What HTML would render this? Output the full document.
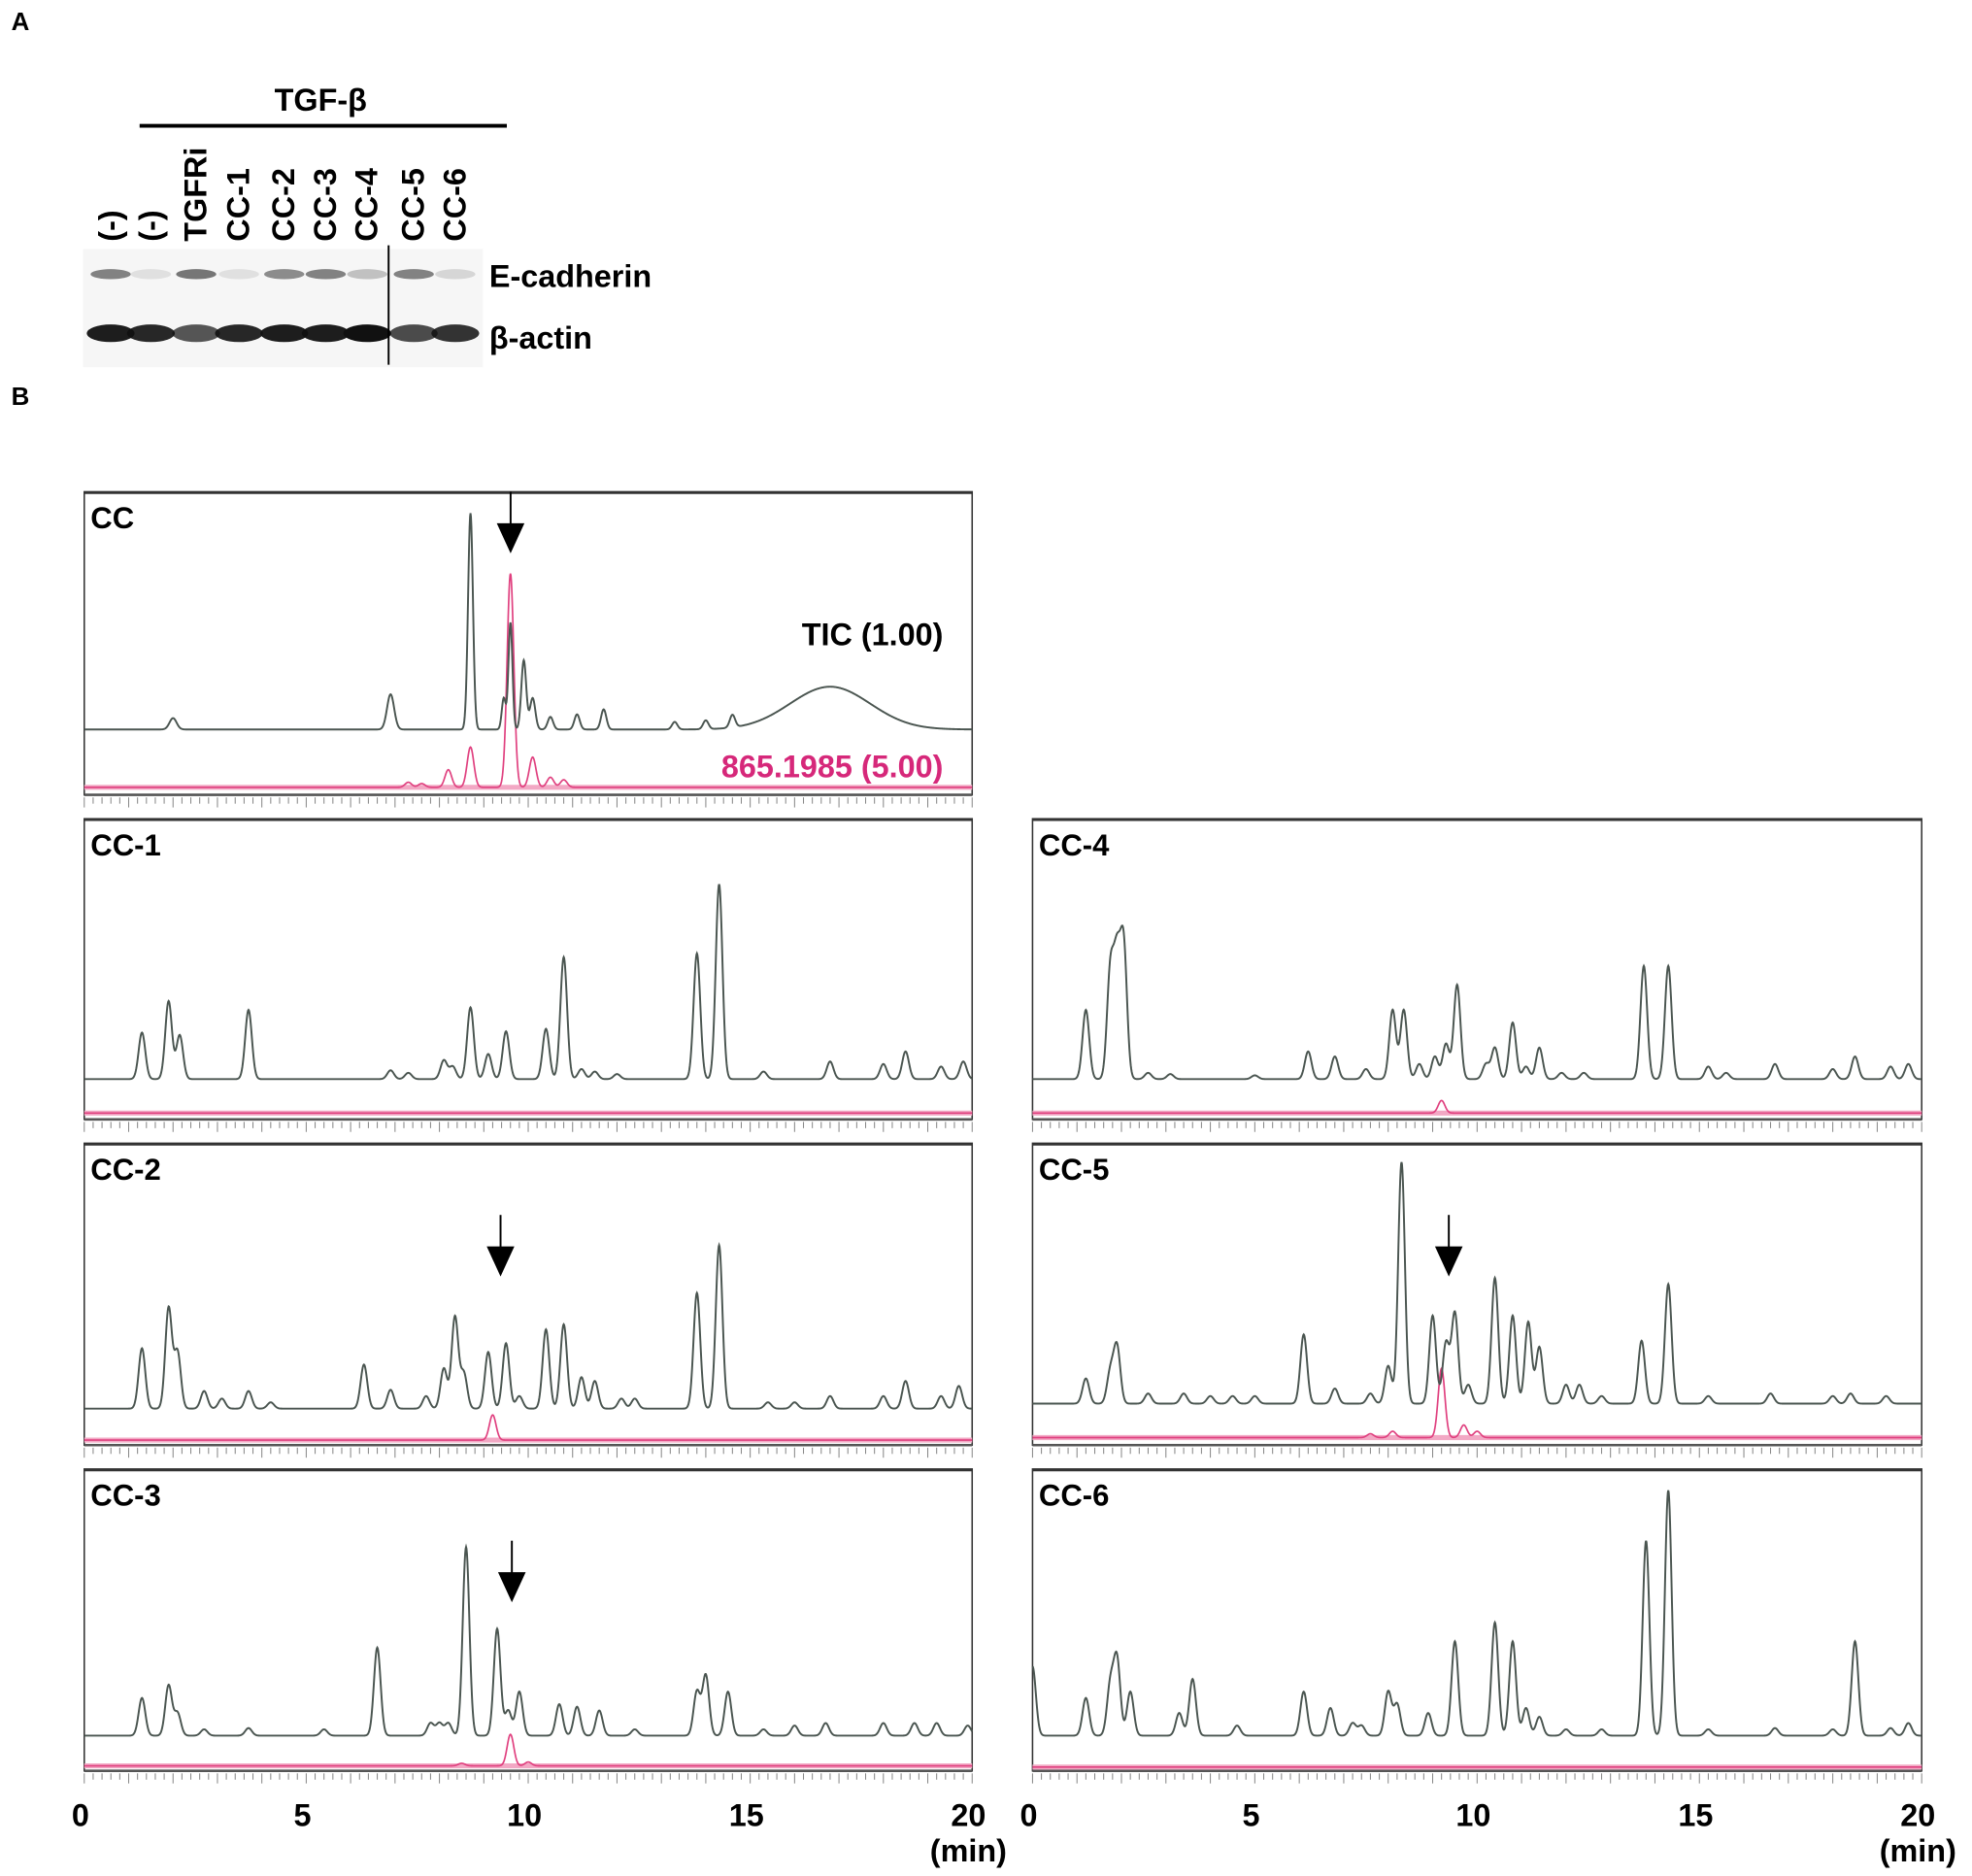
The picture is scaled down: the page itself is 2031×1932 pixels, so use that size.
<!DOCTYPE html>
<html><head><meta charset="utf-8"><style>
html,body{margin:0;padding:0;background:#fff}
svg{display:block}
text{font-family:"Liberation Sans",sans-serif;font-weight:bold}
</style></head><body>
<svg id="fig" width="2031" height="1932" viewBox="0 0 1568 1491.6" preserveAspectRatio="none">
<g>
<text x="9" y="24" font-size="20">A</text>
<text x="255" y="88" font-size="25" text-anchor="middle">TGF-β</text>
<line x1="111" y1="100" x2="403" y2="100" stroke="#000" stroke-width="3"/>
<g id="laneLabels" font-size="25"></g>
<rect x="66" y="198" width="318" height="94" fill="#f6f6f6"/>
<g id="bands"></g>
<line x1="309" y1="195" x2="309" y2="290" stroke="#000" stroke-width="1.5"/>
<text x="389" y="228" font-size="25">E-cadherin</text>
<text x="389" y="277" font-size="25">β-actin</text>
</g>
<text x="9" y="322" font-size="20">B</text>
<g id="charts"></g>
</svg>
<script>
const NS="http://www.w3.org/2000/svg";
// Western blot data
const laneNames=["(-)","(-)","TGFRi","CC-1","CC-2","CC-3","CC-4","CC-5","CC-6"];
const eCadherin=[0.55,0.1,0.6,0.1,0.5,0.55,0.25,0.55,0.15];
const actin=[0.95,0.9,0.7,0.9,0.95,0.95,1.0,0.75,0.85];
// Chromatogram data (times in min, intensities in relative units)
const ccTicTimes=[2.0,6.9,8.7,9.45,9.6,9.9,10.1,10.5,11.1,11.7,13.3,14.0,14.6,16.8];
const ccTicHeights=[9,28,172,25,85,55,25,10,12,16,6,7,10,34];
const ccTicWidths=[0.08,0.08,0.055,0.045,0.045,0.055,0.06,0.06,0.06,0.06,0.06,0.06,0.06,0.9];
const ccPinkTimes=[7.3,7.6,8.2,8.7,9.6,10.1,10.5,10.8];
const ccPinkHeights=[4,3,14,32,170,24,8,6];
const cc1Times=[1.3,1.9,2.15,3.7,6.9,7.3,8.1,8.3,8.7,9.1,9.5,10.4,10.8,11.2,11.5,12.0,13.8,14.3,15.3,16.8,18.0,18.5,19.3,19.8];
const cc1Heights=[37,62,35,55,7,5,15,10,57,20,38,40,97,8,6,4,100,155,6,14,12,22,10,14];
const cc1Pink=[];const cc1PinkH=[];
const cc2Times=[1.3,1.9,2.1,2.7,3.1,3.7,4.2,6.3,6.9,7.7,8.1,8.35,8.55,9.1,9.5,9.8,10.4,10.8,11.2,11.5,12.1,12.4,13.8,14.3,15.4,16.0,16.8,18.0,18.5,19.3,19.7];
const cc2Heights=[48,80,45,14,8,14,5,35,15,10,32,73,28,45,52,10,63,67,25,22,8,8,92,130,5,5,10,10,22,10,18];
const cc2Pink=[9.2];const cc2PinkH=[20];
const cc3Times=[1.3,1.9,2.1,2.7,3.7,5.4,6.6,7.8,8.0,8.2,8.6,9.3,9.55,9.8,10.7,11.1,11.6,12.4,13.8,14.0,14.5,15.3,16.0,16.7,18.0,18.7,19.2,19.9];
const cc3Heights=[30,40,18,5,6,5,70,10,10,10,150,85,20,35,25,23,20,5,35,48,35,5,8,10,10,10,10,8];
const cc3Pink=[8.5,9.6,10.0];const cc3PinkH=[2,25,3];
const cc4Times=[1.2,1.75,1.9,2.05,2.6,3.1,5.0,6.2,6.8,7.5,8.1,8.35,8.7,9.05,9.3,9.55,10.2,10.4,10.8,11.1,11.4,11.9,12.4,13.75,14.3,15.2,15.6,16.7,18.0,18.5,19.3,19.7];
const cc4Heights=[55,85,90,105,5,4,3,22,18,8,55,55,12,18,28,75,12,25,45,10,25,5,5,90,90,10,5,12,8,18,10,12];
const cc4Pink=[9.2];const cc4PinkH=[10];
const cc5Times=[1.2,1.75,1.9,2.6,3.4,4.0,4.5,5.0,6.1,6.8,7.6,8.0,8.3,9.0,9.3,9.5,9.8,10.4,10.8,11.15,11.4,12.0,12.3,12.8,13.7,14.3,15.2,16.6,18.0,18.4,19.2];
const cc5Heights=[20,25,45,8,8,6,6,6,55,12,8,30,192,70,48,72,15,100,70,65,45,15,15,6,50,95,6,8,6,8,6];
const cc5Pink=[7.6,8.1,9.2,9.7,10.0];const cc5PinkH=[3,5,55,10,5];
const cc6Times=[0.0,1.2,1.75,1.9,2.2,3.3,3.6,4.6,6.1,6.7,7.2,7.4,8.0,8.2,8.9,9.5,10.4,10.8,11.1,11.4,12.0,12.8,13.8,14.3,15.2,16.7,18.0,18.5,19.3,19.7];
const cc6Heights=[55,30,40,60,35,18,45,8,35,22,10,8,35,25,18,75,90,75,22,15,5,5,155,195,5,6,5,75,6,10];
const cc6Pink=[];const cc6PinkH=[];
const xTicks=[0,5,10,15,20];

function el(tag,attrs,parent){const e=document.createElementNS(NS,tag);for(const k in attrs)e.setAttribute(k,attrs[k]);parent.appendChild(e);return e;}

const ll=document.getElementById('laneLabels');
const laneX=[87,119,155,189,225,258,291,328,361];
laneNames.forEach((n,i)=>{
 const t=el('text',{x:0,y:0,transform:`translate(${laneX[i]+9},192) rotate(-90)`},ll);
 
 
 t.textContent=n;
});
const bands=document.getElementById('bands');
laneNames.forEach((n,i)=>{
 const b1=el('ellipse',{cx:laneX[i]+1,cy:218,rx:16,ry:4,fill:'#222','fill-opacity':eCadherin[i]},bands);
 
 
 const b2=el('ellipse',{cx:laneX[i]+1,cy:265,rx:19,ry:7,fill:'#111','fill-opacity':actin[i]},bands);
 
 
});

const charts=document.getElementById('charts');
const panels=[
 {name:'CC',x0:67,x1:773,top:391,bot:632,tic:580,pink:626,t:ccTicTimes,h:ccTicHeights,w:ccTicWidths,pt:ccPinkTimes,ph:ccPinkHeights,arrow:406},
 {name:'CC-1',x0:67,x1:773,top:651,bot:890,tic:858,pink:885,t:cc1Times,h:cc1Heights,pt:cc1Pink,ph:cc1PinkH},
 {name:'CC-2',x0:67,x1:773,top:909,bot:1149,tic:1120,pink:1145,t:cc2Times,h:cc2Heights,pt:cc2Pink,ph:cc2PinkH,arrow:398},
 {name:'CC-3',x0:67,x1:773,top:1168,bot:1408,tic:1380,pink:1404,t:cc3Times,h:cc3Heights,pt:cc3Pink,ph:cc3PinkH,arrow:407},
 {name:'CC-4',x0:821,x1:1528,top:651,bot:890,tic:858,pink:885,t:cc4Times,h:cc4Heights,pt:cc4Pink,ph:cc4PinkH},
 {name:'CC-5',x0:821,x1:1528,top:909,bot:1149,tic:1116,pink:1143,t:cc5Times,h:cc5Heights,pt:cc5Pink,ph:cc5PinkH,arrow:1152},
 {name:'CC-6',x0:821,x1:1528,top:1168,bot:1408,tic:1380,pink:1405,t:cc6Times,h:cc6Heights,pt:cc6Pink,ph:cc6PinkH},
];
function tracePath(p,times,heights,widths,base){
 const xs=t=>p.x0+(p.x1-p.x0)*t/20;
 let d='';
 for(let i=0;i<=2000;i++){
  const t=i*0.01;let s=0;
  for(let k=0;k<times.length;k++){const sg=widths?widths[k]:0.075;s+=heights[k]*Math.exp(-((t-times[k])**2)/(2*sg*sg));}
  d+=(i?'L':'M')+xs(t).toFixed(2)+' '+(base-s).toFixed(2);
 }
 return d;
}
panels.forEach(p=>{
 const g=el('g',{},charts);
 
 
 const box=el('rect',{x:p.x0,y:p.top,width:p.x1-p.x0,height:p.bot-p.top,fill:'none',stroke:'#333','stroke-width':1.2},g);
 
 
 el('line',{x1:p.x0,y1:p.top+0.8,x2:p.x1,y2:p.top+0.8,stroke:'#333','stroke-width':2},g);
 el('line',{x1:p.x0,y1:p.bot,x2:p.x1,y2:p.bot,stroke:'#555','stroke-width':2},g);
 const lab=el('text',{x:p.x0+5,y:p.top+29,'font-size':24},g);
 
 
 lab.textContent=p.name;
 for(let i=0;i<=100;i++){
  const x=p.x0+(p.x1-p.x0)*i/100;const L=i%5===0?8:5;
  el('line',{x1:x,y1:p.bot+2,x2:x,y2:p.bot+2+L,stroke:'#888','stroke-width':0.8},g);
 }
 el('line',{x1:p.x0,y1:p.pink,x2:p.x1,y2:p.pink,stroke:'#f2a8c4','stroke-width':4},g);
 const pk=el('path',{d:tracePath(p,p.pt,p.ph,null,p.pink),fill:'none',stroke:'#e0407f','stroke-width':1.3},g);
 
 
 const tic=el('path',{d:tracePath(p,p.t,p.h,p.w,p.tic),fill:'none',stroke:'#4a5550','stroke-width':1.5},g);
 
 
 if(p.arrow){
  const a=el('g',{},g);
  
  
  const y0=p.top+(p.name==='CC'?0:57);
  el('line',{x1:p.arrow,y1:y0,x2:p.arrow,y2:y0+30,stroke:'#000','stroke-width':1.5},a);
  el('polygon',{points:`${p.arrow-11},${y0+25} ${p.arrow+11},${y0+25} ${p.arrow},${y0+49}`,fill:'#000'},a);
 }
});
const t1=el('text',{x:750,y:513,'font-size':25,'text-anchor':'end'},charts);


t1.textContent='TIC (1.00)';
const t2=el('text',{x:750,y:618,'font-size':25,'text-anchor':'end',fill:'#d6287a'},charts);


t2.textContent='865.1985 (5.00)';
[[67,773],[821,1528]].forEach(([a,b])=>{
 xTicks.forEach(v=>{
  const t=el('text',{x:a+(b-a)*v/20-3,y:1452,'font-size':25,'text-anchor':'middle'},charts);
  
  
  t.textContent=v;
 });
 const u=el('text',{x:b-3,y:1480,'font-size':25,'text-anchor':'middle'},charts);
 
 
 u.textContent='(min)';
});
</script>
</body></html>
